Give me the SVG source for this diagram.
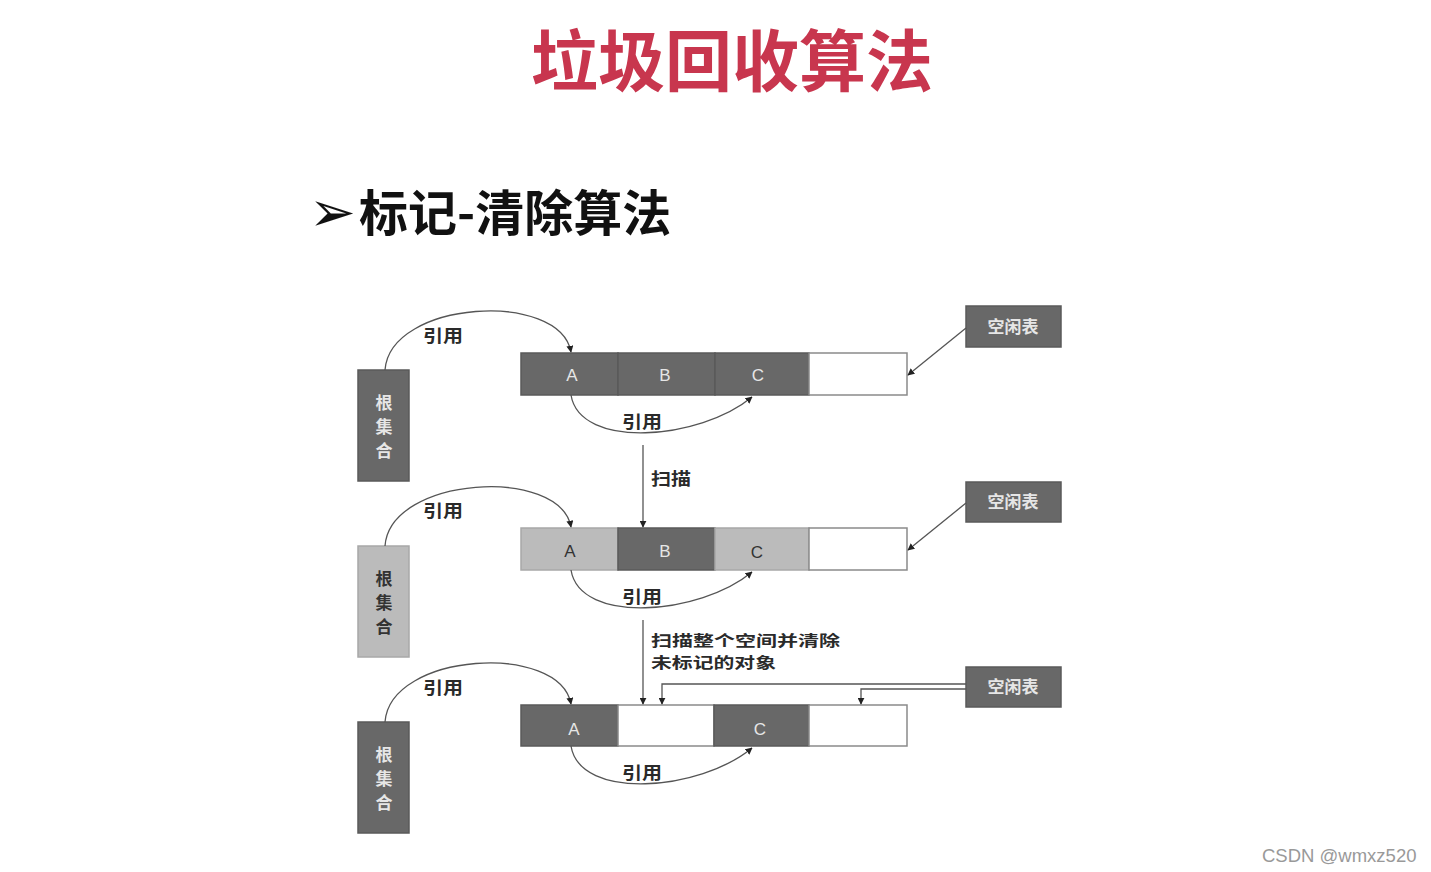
<svg xmlns="http://www.w3.org/2000/svg" width="1431" height="872" viewBox="0 0 1431 872">
<defs>
<marker id="ah" viewBox="0 0 10 10" refX="9" refY="5" markerWidth="7" markerHeight="7" orient="auto-start-reverse" markerUnits="userSpaceOnUse">
<path d="M0,0 L10,5 L0,10 z" fill="#222"/>
</marker>
<style>
.dark{fill:#686868;stroke:#5a5a5a;stroke-width:1.5}
.light{fill:#bbbbbb;stroke:#a8a8a8;stroke-width:1.5}
.empty{fill:#ffffff;stroke:#8a8a8a;stroke-width:1.5}
.cl{font-family:"Liberation Sans Narrow","Liberation Sans","Noto Sans CJK SC",sans-serif;font-size:17px;text-anchor:middle}
.wt{fill:#e6e6e6}
.bt{fill:#333333}
.bx{font-family:"Noto Sans CJK SC",sans-serif;font-size:17px;text-anchor:middle;font-weight:bold}
.lbl{font-family:"Noto Sans CJK SC",sans-serif;font-size:17px;font-weight:bold;fill:#2a2a2a}
.sm{font-size:15px}
.con{fill:none;stroke:#555;stroke-width:1.3}
</style>
</defs>
<rect width="1431" height="872" fill="#ffffff"/>

<g id="title">
<text x="732" y="86" font-family="Noto Sans CJK SC,sans-serif" font-size="67" font-weight="bold" fill="#c8364e" text-anchor="middle">垃圾回收算法</text>
</g>
<g id="subtitle">
<text x="309" y="231" font-family="DejaVu Sans,sans-serif" font-size="56" fill="#111">➢</text>
<text x="359" y="231" font-family="Noto Sans CJK SC,sans-serif" font-size="49" font-weight="bold" fill="#111">标记-清除算法</text>
</g>

<!-- Row 1 -->
<g id="root1">
<rect class="dark" x="358" y="370" width="51" height="111"/>
<text class="bx wt" x="384" y="409">根</text>
<text class="bx wt" x="384" y="433">集</text>
<text class="bx wt" x="384" y="457">合</text>
</g>
<g id="heap1">
<rect class="dark" x="521" y="353" width="97" height="42"/>
<rect class="dark" x="618" y="353" width="97" height="42"/>
<rect class="dark" x="715" y="353" width="94" height="42"/>
<rect class="empty" x="809" y="353" width="98" height="42"/>
<text class="cl wt" x="572" y="381">A</text>
<text class="cl wt" x="665" y="381">B</text>
<text class="cl wt" x="758" y="381">C</text>
</g>
<g id="free1">
<rect class="dark" x="966" y="306" width="95" height="41"/>
<text class="bx wt" x="1013" y="333">空闲表</text>
</g>

<!-- Row 2 -->
<g id="root2">
<rect class="light" x="358" y="546" width="51" height="111"/>
<text class="bx bt" x="384" y="585">根</text>
<text class="bx bt" x="384" y="609">集</text>
<text class="bx bt" x="384" y="633">合</text>
</g>
<g id="heap2">
<rect class="light" x="521" y="528" width="97" height="42"/>
<rect class="dark" x="618" y="528" width="97" height="42"/>
<rect class="light" x="715" y="528" width="94" height="42"/>
<rect class="empty" x="809" y="528" width="98" height="42"/>
<text class="cl bt" x="570" y="557">A</text>
<text class="cl wt" x="665" y="557">B</text>
<text class="cl bt" x="757" y="558">C</text>
</g>
<g id="free2">
<rect class="dark" x="966" y="482" width="95" height="40"/>
<text class="bx wt" x="1013" y="508">空闲表</text>
</g>

<!-- Row 3 -->
<g id="root3">
<rect class="dark" x="358" y="722" width="51" height="111"/>
<text class="bx wt" x="384" y="761">根</text>
<text class="bx wt" x="384" y="785">集</text>
<text class="bx wt" x="384" y="809">合</text>
</g>
<g id="heap3">
<rect class="dark" x="521" y="705" width="97" height="41"/>
<rect class="empty" x="618" y="705" width="96" height="41"/>
<rect class="dark" x="714" y="705" width="95" height="41"/>
<rect class="empty" x="809" y="705" width="98" height="41"/>
<text class="cl wt" x="574" y="735">A</text>
<text class="cl wt" x="760" y="735">C</text>
</g>
<g id="free3">
<rect class="dark" x="966" y="667" width="95" height="40"/>
<text class="bx wt" x="1013" y="693">空闲表</text>
</g>

<g id="connectors">
<!-- row 1 -->
<path class="con" d="M385,370 C390,300 560,290 571,352" marker-end="url(#ah)"/>
<path class="con" d="M571,395 C580,450 700,440 752,397" marker-end="url(#ah)"/>
<path class="con" d="M966,328 L908,375" marker-end="url(#ah)"/>
<path class="con" d="M643,445 L643,527" marker-end="url(#ah)"/>
<!-- row 2 -->
<path class="con" d="M385,546 C390,476 560,466 571,527" marker-end="url(#ah)"/>
<path class="con" d="M571,570 C580,625 700,615 752,572" marker-end="url(#ah)"/>
<path class="con" d="M966,503 L908,550" marker-end="url(#ah)"/>
<path class="con" d="M643,620 L643,704" marker-end="url(#ah)"/>
<!-- row 3 -->
<path class="con" d="M385,722 C390,652 560,642 571,704" marker-end="url(#ah)"/>
<path class="con" d="M571,746 C580,801 700,791 752,748" marker-end="url(#ah)"/>
<path class="con" d="M966,684 L662,684 L662,704" marker-end="url(#ah)"/>
<path class="con" d="M966,689 L861,689 L861,704" marker-end="url(#ah)"/>
</g>

<g id="labels">
<text class="lbl" x="423" y="342" textLength="40" lengthAdjust="spacingAndGlyphs">引用</text>
<text class="lbl" x="622" y="428" textLength="40" lengthAdjust="spacingAndGlyphs">引用</text>
<text class="lbl" x="651" y="485" textLength="40" lengthAdjust="spacingAndGlyphs">扫描</text>
<text class="lbl" x="423" y="517" textLength="40" lengthAdjust="spacingAndGlyphs">引用</text>
<text class="lbl" x="622" y="603" textLength="40" lengthAdjust="spacingAndGlyphs">引用</text>
<text class="lbl sm" x="651" y="646" textLength="189" lengthAdjust="spacingAndGlyphs">扫描整个空间并清除</text>
<text class="lbl sm" x="651" y="668" textLength="125" lengthAdjust="spacingAndGlyphs">未标记的对象</text>
<text class="lbl" x="423" y="694" textLength="40" lengthAdjust="spacingAndGlyphs">引用</text>
<text class="lbl" x="622" y="779" textLength="40" lengthAdjust="spacingAndGlyphs">引用</text>
</g>

<g id="watermark">
<text x="1262" y="862" font-family="Liberation Sans,sans-serif" font-size="18.5" fill="#999">CSDN @wmxz520</text>
</g>
</svg>
